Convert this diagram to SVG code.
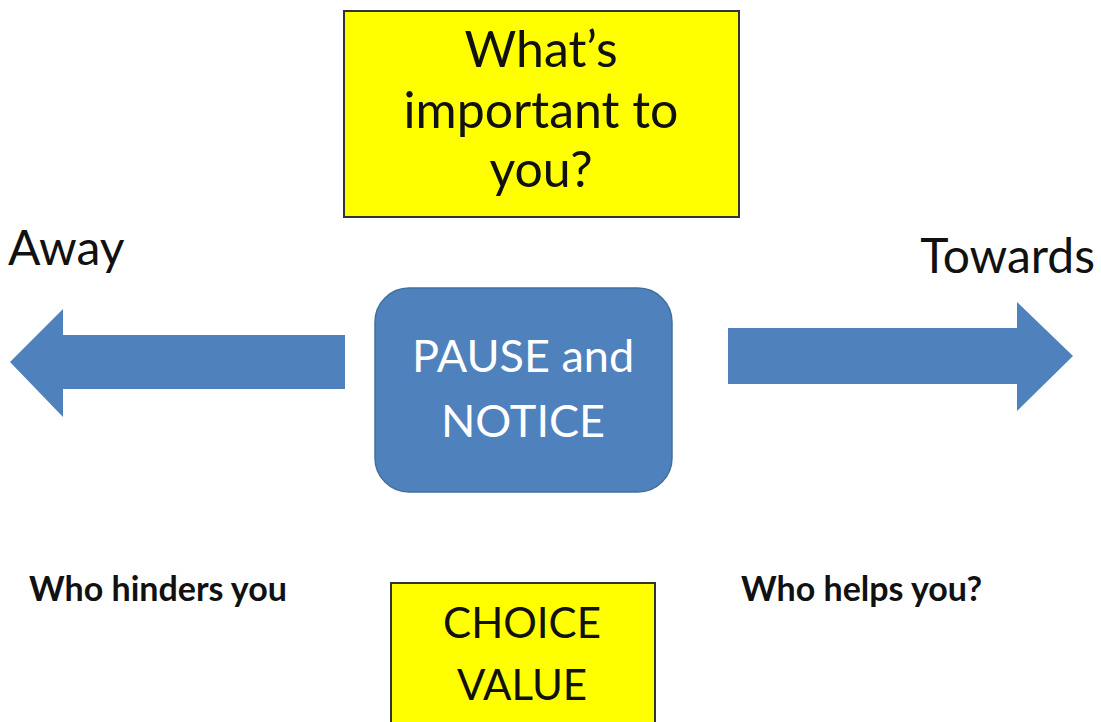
<svg xmlns="http://www.w3.org/2000/svg" width="1101" height="722" viewBox="0 0 1101 722">
<style>
.ybox{fill:#FFFF00;stroke:#333333;stroke-width:2}
.blue{fill:#4F81BD}
.t{font-family:Lato,"Open Sans","Liberation Sans",sans-serif;fill:#111}
.big{font-size:50px;text-anchor:middle}
.w{fill:#FFFFFF;font-size:45px;text-anchor:middle}
.lbl{font-size:48px}
.b{font-weight:bold;font-size:34px}
</style>
<rect width="1101" height="722" fill="#FFFFFF"/>
<g id="connectors">
<polygon class="blue" points="345,335 63,335 63,309 10,362 63,417 63,389 345,389"/>
<polygon class="blue" points="728,328 1017,328 1017,302 1073,356 1017,411 1017,384 728,384"/>
</g>
<g id="node-important">
<rect class="ybox" x="344" y="11" width="395" height="206"/>
<text class="t big" x="541" y="67">What’s</text>
<text class="t big" x="541" y="128">important to</text>
<text class="t big" x="541" y="187">you?</text>
</g>
<g id="node-pause">
<rect x="375" y="288" width="297" height="204" rx="34" ry="34" fill="#4F81BD" stroke="#41709F" stroke-width="1.5"/>
<text class="t w" x="523" y="372">PAUSE and</text>
<text class="t w" x="523" y="437">NOTICE</text>
</g>
<g id="node-away">
<text class="t lbl" x="8" y="265">Away</text>
</g>
<g id="node-towards">
<text class="t lbl" x="1095" y="273" text-anchor="end">Towards</text>
</g>
<g id="node-hinders">
<text class="t b" x="29" y="601">Who hinders you</text>
</g>
<g id="node-helps">
<text class="t b" x="741" y="601">Who helps you?</text>
</g>
<g id="node-choice">
<rect class="ybox" x="391" y="583" width="264" height="150"/>
<text class="t big" x="522" y="638" style="font-size:42px">CHOICE</text>
<text class="t big" x="522" y="700" style="font-size:42px">VALUE</text>
</g>
</svg>
